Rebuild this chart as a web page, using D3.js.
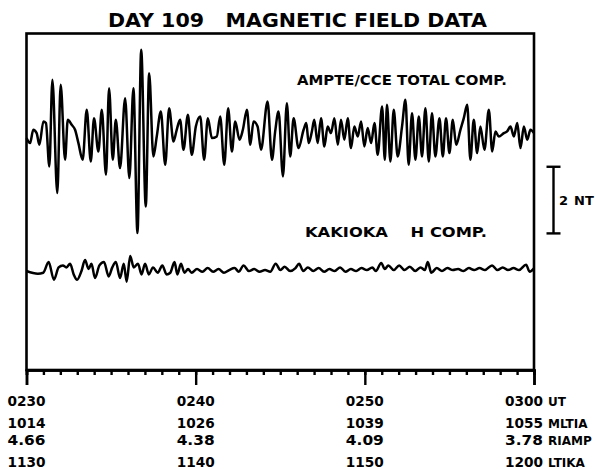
<!DOCTYPE html>
<html><head><meta charset="utf-8">
<script src="https://cdn.jsdelivr.net/npm/d3@7"></script>
<style>
html,body{margin:0;padding:0;background:#fff;}
svg{display:block;}
text{font-family:"DejaVu Sans","Liberation Sans",sans-serif;font-weight:bold;fill:#000;}
</style></head>
<body>
<svg id="c" width="595" height="469"></svg>
<script>
// ---- data ----
const title = "DAY 109   MAGNETIC FIELD DATA";
const majorTicks = [0, 10, 20, 30];            // minutes after 02:30 UT
const utLabels   = ["0230", "0240", "0250", "0300"];
const mltLabels  = ["1014", "1026", "1039", "1055"];
const rLabels    = ["4.66", "4.38", "4.09", "3.78"];
const ltLabels   = ["1130", "1140", "1150", "1200"];
const rowNames   = ["UT", "MLTIA", "RIAMP", "LTIKA"];
const seriesNames = ["AMPTE/CCE TOTAL COMP.", "KAKIOKA    H COMP."];
const scaleBarNT = 2;

// AMPTE/CCE total component: time (min after 02:30) and deviation (nT)
const upperT = [0.00,0.21,0.40,0.60,0.76,1.00,1.15,1.35,1.53,1.82,2.02,2.28,2.44,2.67,2.87,3.07,3.32,3.56,3.80,3.99,
4.25,4.45,4.70,4.88,5.10,5.28,5.53,5.83,6.08,6.32,6.56,6.78,7.05,7.25,7.50,7.70,7.94,8.20,8.43,8.69,
8.88,9.08,9.28,9.54,9.77,10.01,10.27,10.50,10.72,10.96,11.25,11.45,11.69,11.92,12.14,12.34,12.59,12.79,13.03,13.23,
13.42,13.66,13.86,14.25,14.51,14.70,14.90,15.16,15.39,15.59,15.79,16.08,16.38,16.54,16.68,16.87,17.01,17.21,17.41,17.61,
17.80,18.00,18.20,18.40,18.59,18.79,18.99,19.18,19.38,19.58,19.78,19.97,20.17,20.37,20.57,20.76,21.02,21.18,21.31,21.51,
21.71,21.94,22.20,22.40,22.59,22.79,22.99,23.19,23.38,23.58,23.78,23.97,24.17,24.41,24.61,24.80,25.00,25.20,25.40,25.65,
25.85,26.05,26.24,26.44,26.64,26.83,27.07,27.33,27.53,27.72,27.92,28.22,28.41,28.61,28.81,29.01,29.20,29.40,29.60,29.79,30.00];
const upperV = [-0.04,-0.19,0.21,0.11,-0.24,0.46,0.41,-0.89,1.71,-1.69,1.56,-0.69,0.51,0.36,0.21,-0.19,-0.69,0.81,-0.74,0.56,
-0.44,0.81,-1.14,1.46,-0.69,0.51,-0.94,1.16,-1.24,1.46,-2.89,2.61,-2.09,1.91,-0.59,0.01,0.76,-0.84,0.86,-0.14,
0.21,0.51,-0.39,0.66,-0.54,0.31,0.61,-0.69,0.56,-0.04,0.01,0.61,-0.84,0.86,-0.44,0.46,-0.09,0.21,0.81,-0.24,
0.46,0.31,-0.39,1.06,-0.69,0.16,0.76,-1.19,1.01,-0.59,0.56,-0.34,0.21,0.41,-0.19,0.16,0.51,-0.19,0.56,-0.29,
0.31,0.11,0.56,-0.24,0.51,-0.09,0.56,-0.34,0.31,0.01,0.46,-0.29,0.26,-0.19,0.41,-0.54,0.91,-0.69,0.96,-0.74,
0.81,-0.59,0.31,1.11,-0.84,0.71,-0.69,0.61,-0.59,0.86,-0.74,0.71,-0.59,0.56,-0.59,0.56,-0.49,0.51,-0.24,0.21,
0.56,0.96,-0.69,0.51,-0.49,0.31,-0.39,0.81,-0.44,0.16,0.01,0.11,0.16,0.31,0.01,0.41,-0.34,0.31,-0.09,0.21,0.11];

// Kakioka H component: time (min after 02:30) and deviation (nT)
const lowerT = [0.00,0.67,0.99,1.31,1.62,1.90,2.15,2.36,2.58,2.79,2.99,3.25,3.46,3.67,3.84,4.05,4.31,4.58,4.86,5.07,
5.28,5.53,5.75,5.92,6.13,6.34,6.59,6.80,7.01,7.23,7.48,7.76,8.03,8.28,8.50,8.75,8.92,9.13,9.34,9.55,
9.76,10.08,10.40,10.71,11.03,11.35,11.67,11.98,12.30,12.55,12.83,13.15,13.46,13.78,14.10,14.41,14.73,15.01,15.26,15.58,
15.90,16.11,16.36,16.63,16.95,17.27,17.59,17.90,18.22,18.54,18.85,19.17,19.49,19.80,20.12,20.44,20.65,20.97,21.18,21.39,
21.71,22.03,22.34,22.66,22.98,23.30,23.55,23.72,23.93,24.25,24.56,24.88,25.20,25.51,25.83,26.15,26.46,26.78,27.10,27.52,
27.84,28.15,28.47,28.79,29.11,29.53,29.74,30.00];
const lowerV = [-0.03,-0.11,-0.08,0.24,-0.29,0.08,0.14,0.08,0.19,-0.13,-0.29,-0.03,0.30,0.03,0.19,-0.24,0.14,0.24,-0.19,0.08,
0.24,-0.24,0.19,-0.35,0.42,0.08,0.19,-0.13,0.19,-0.13,0.08,-0.08,0.14,-0.13,-0.08,0.24,-0.13,0.19,-0.08,0.03,
-0.08,0.03,-0.05,0.06,-0.05,0.03,-0.08,0.00,0.06,-0.05,0.14,-0.03,0.03,-0.05,0.00,-0.05,0.19,0.00,0.10,-0.03,
0.06,0.19,-0.03,0.08,-0.03,0.06,-0.05,0.03,-0.03,0.08,-0.05,0.03,-0.03,0.06,0.00,0.08,-0.03,0.21,0.03,0.14,
0.00,0.14,0.00,0.10,-0.03,0.08,0.00,0.24,-0.08,0.06,-0.03,0.06,0.00,0.03,-0.03,0.06,0.00,0.06,0.00,0.14,
0.00,0.08,0.00,0.06,0.00,0.16,-0.05,0.05];

// ---- layout ----
const svg = d3.select("#c");
const x = d3.scaleLinear().domain([0, 30]).range([26.5, 534]);
const y = d3.scaleLinear().domain([0, 10.1]).range([370, 33.5]);   // nT, 33.3 px per nT
const upperBase = 7.0, lowerBase = 3.0;

// frame
svg.append("rect").attr("x", x(0)).attr("y", y(10.1)).attr("width", x(30) - x(0)).attr("height", y(0) - y(10.1))
  .attr("fill", "none").attr("stroke", "#000").attr("stroke-width", 2.6);

// axis: minor ticks every minute, major ticks every 10 minutes
const minorAxis = d3.axisBottom(x).tickValues(d3.range(0, 31, 1)).tickSize(5).tickFormat("");
const gMinor = svg.append("g").attr("transform", `translate(0,${y(0)})`).call(minorAxis);
const majorAxis = d3.axisBottom(x).tickValues(majorTicks).tickSize(15).tickFormat("");
const gMajor = svg.append("g").attr("transform", `translate(0,${y(0)})`).call(majorAxis);
[gMinor, gMajor].forEach(g => {
  g.select(".domain").attr("stroke", "#000").attr("stroke-width", 2.6);
  g.selectAll(".tick line").attr("stroke", "#000").attr("stroke-width", 2.4);
});

// traces
const lineU = d3.line().x((d, i) => x(upperT[i])).y(d => y(upperBase + d)).curve(d3.curveMonotoneX);
const lineL = d3.line().x((d, i) => x(lowerT[i])).y(d => y(lowerBase + d)).curve(d3.curveMonotoneX);
svg.append("path").attr("d", lineU(upperV)).attr("fill", "none").attr("stroke", "#000")
  .attr("stroke-width", 2.5).attr("stroke-linejoin", "round");
svg.append("path").attr("d", lineL(lowerV)).attr("fill", "none").attr("stroke", "#000")
  .attr("stroke-width", 2.5).attr("stroke-linejoin", "round");

// title
svg.append("text").attr("x", 108).attr("y", 27).attr("font-size", 19)
  .attr("textLength", 379).attr("lengthAdjust", "spacingAndGlyphs").style("white-space", "pre").text(title);

// series labels
svg.append("text").attr("x", 297).attr("y", 85).attr("font-size", 13.5)
  .attr("textLength", 210).attr("lengthAdjust", "spacingAndGlyphs").text(seriesNames[0]);
svg.append("text").attr("x", 305).attr("y", 237).attr("font-size", 13.5)
  .attr("textLength", 182).attr("lengthAdjust", "spacingAndGlyphs").style("white-space", "pre").text(seriesNames[1]);

// scale bar
const sbX = 553.5, sb0 = upperBase - 2.9, sb1 = sb0 + scaleBarNT;
svg.append("line").attr("x1", sbX).attr("x2", sbX).attr("y1", y(sb0)).attr("y2", y(sb1)).attr("stroke", "#000").attr("stroke-width", 2.4);
[sb0, sb1].forEach(v => svg.append("line").attr("x1", sbX - 7).attr("x2", sbX + 7).attr("y1", y(v)).attr("y2", y(v))
  .attr("stroke", "#000").attr("stroke-width", 2.4));
svg.append("text").attr("x", 559).attr("y", y((sb0 + sb1) / 2) + 5).attr("font-size", 13)
  .text(String(scaleBarNT));
svg.append("text").attr("x", 574).attr("y", y((sb0 + sb1) / 2) + 5).attr("font-size", 13)
  .text("NT");

// bottom label rows
const rows = [utLabels, mltLabels, rLabels, ltLabels];
const rowY = [406, 428, 445, 467];
const colW = 38;
rows.forEach((labels, r) => {
  labels.forEach((s, i) => {
    const cx = i === 3 ? x(majorTicks[i]) - 10 : x(majorTicks[i]);
    svg.append("text").attr("x", Math.max(7, cx - colW / 2)).attr("y", rowY[r]).attr("font-size", 14)
      .attr("textLength", colW).attr("lengthAdjust", "spacingAndGlyphs").text(s);
  });
  svg.append("text").attr("x", x(30) + colW / 2 - 5).attr("y", rowY[r]).attr("font-size", 12)
    .text(rowNames[r]);
});
</script>
</body></html>
